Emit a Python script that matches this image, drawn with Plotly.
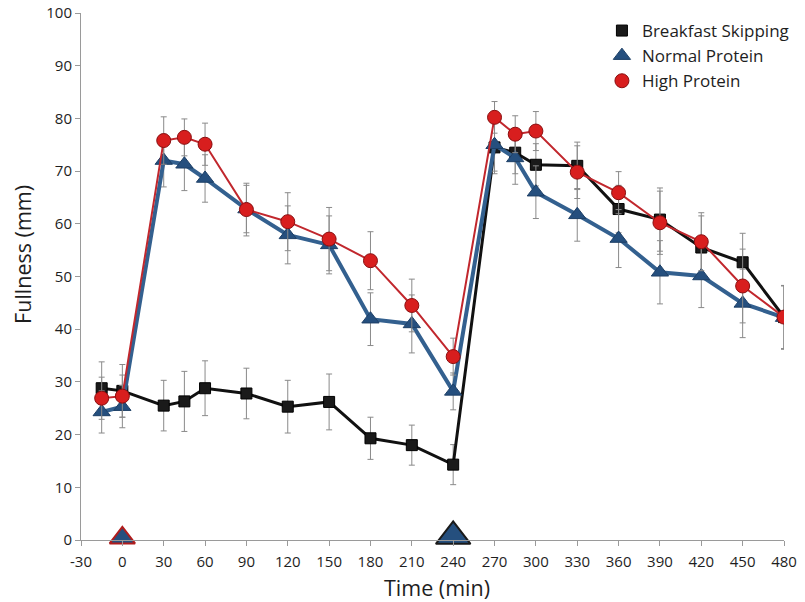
import plotly.graph_objects as go

time = [-15, 0, 30, 45, 60, 90, 120, 150, 180, 210, 240, 270, 285, 300, 330, 360, 390, 420, 450, 480]

skip = [28.8, 28.3, 25.5, 26.3, 28.8, 27.8, 25.3, 26.2, 19.3, 18.0, 14.3, 74.5, 73.5, 71.2, 71.0, 62.8, 60.8, 55.5, 52.7, 42.3]
skip_err = [5.0, 5.0, 4.8, 5.7, 5.2, 4.8, 5.0, 5.3, 4.0, 3.8, 3.8, 5.0, 4.0, 4.0, 4.5, 4.5, 6.0, 6.0, 5.5, 6.0]

normal = [24.3, 25.3, 72.0, 71.3, 68.6, 62.8, 57.9, 56.0, 41.9, 41.0, 28.2, 75.0, 72.5, 66.0, 61.7, 57.2, 50.8, 50.1, 44.9, 42.2]
normal_err = [4.0, 4.0, 5.0, 5.0, 4.5, 4.5, 5.5, 5.5, 5.0, 5.5, 3.5, 5.0, 5.0, 5.0, 5.0, 5.5, 6.0, 6.0, 6.5, 6.0]

high = [26.9, 27.3, 75.8, 76.4, 75.1, 62.7, 60.4, 57.1, 53.0, 44.5, 34.8, 80.2, 77.0, 77.6, 69.8, 65.9, 60.2, 56.6, 48.2, 42.3]
high_err = [4.0, 4.0, 4.5, 3.5, 4.0, 5.0, 5.5, 6.0, 5.5, 5.0, 3.5, 3.0, 3.5, 3.7, 5.0, 4.0, 6.0, 5.5, 7.0, 6.0]

meal_times = [0, 240]
meal_level = [0.4, 0.7]

x_ticks = list(range(-30, 481, 30))
y_ticks = list(range(0, 101, 10))

series_names = ["Breakfast Skipping", "Normal Protein", "High Protein"]

FONT = "Open Sans"
ERR_COLOR = "#8a8a8a"
TXT = "#1e1e1e"

fig = go.Figure()

styles = [
    dict(y=skip, e=skip_err, line=dict(color="#111111", width=3),
         marker=dict(symbol="square", size=11, color="#1a1a1a", opacity=1, line=dict(color="#000000", width=1))),
    dict(y=normal, e=normal_err, line=dict(color="#33608f", width=4),
         marker=dict(symbol="triangle-up", size=15, color="#254f7e", opacity=1, line=dict(color="#1d3f66", width=1))),
    dict(y=high, e=high_err, line=dict(color="#c1272d", width=2),
         marker=dict(symbol="circle", size=14, color="#d81e1e", opacity=1, line=dict(color="#8a0f10", width=1))),
]

for name, s in zip(series_names, styles):
    fig.add_trace(go.Scatter(
        x=time, y=s["y"], mode="lines+markers", name=name, showlegend=False,
        line=s["line"], marker=s["marker"],
        error_y=dict(type="data", array=s["e"], visible=True, color=ERR_COLOR, thickness=1, width=3),
    ))

# legend-only entries (markers only)
for name, s in zip(series_names, styles):
    fig.add_trace(go.Scatter(
        x=[None], y=[None], mode="markers", name=name, marker=s["marker"], showlegend=True,
    ))

# meal markers on the axis
fig.add_trace(go.Scatter(
    x=meal_times, y=meal_level, mode="markers", showlegend=False, cliponaxis=False,
    marker=dict(symbol="triangle-up", size=[22, 30], color="#254f7e", opacity=1,
                line=dict(color=["#b01c1c", "#1a1a1a"], width=2)),
))

axis_common = dict(
    showgrid=False, zeroline=False, showline=True, linecolor="#9a9a9a", linewidth=1,
    ticks="outside", tickcolor="#9a9a9a", ticklen=5, tickwidth=1, automargin=False,
    tickfont=dict(family=FONT, size=15, color=TXT), ticklabeloverflow="allow",
)

fig.update_xaxes(
    range=[-30, 480], tickvals=x_ticks, ticktext=[str(v) for v in x_ticks],
    ticklabelstandoff=3,
    **axis_common,
)
fig.update_yaxes(
    range=[0, 100], tickvals=y_ticks, ticktext=[str(v) for v in y_ticks],
    **axis_common,
)

fig.add_annotation(
    text="Time (min)", xref="paper", yref="paper", x=0.5, y=0, xshift=4.5, yshift=-47,
    xanchor="center", yanchor="middle", showarrow=False,
    font=dict(family=FONT, size=21.5, color=TXT),
)
fig.add_annotation(
    text="Fullness (mm)", xref="paper", yref="paper", x=0, y=0.541, xshift=-58,
    xanchor="center", yanchor="middle", textangle=-90, showarrow=False,
    font=dict(family=FONT, size=21.5, color=TXT),
)

fig.update_layout(
    width=797, height=594,
    margin=dict(l=73, r=21, t=5, b=62),
    plot_bgcolor="white", paper_bgcolor="white",
    font=dict(family=FONT, color=TXT),
    legend=dict(x=0.741, y=1.0, xanchor="left", yanchor="top",
                font=dict(family=FONT, size=17, color=TXT),
                bgcolor="rgba(255,255,255,0)", itemwidth=30, tracegroupgap=0),
)

fig.write_html("out.html")
